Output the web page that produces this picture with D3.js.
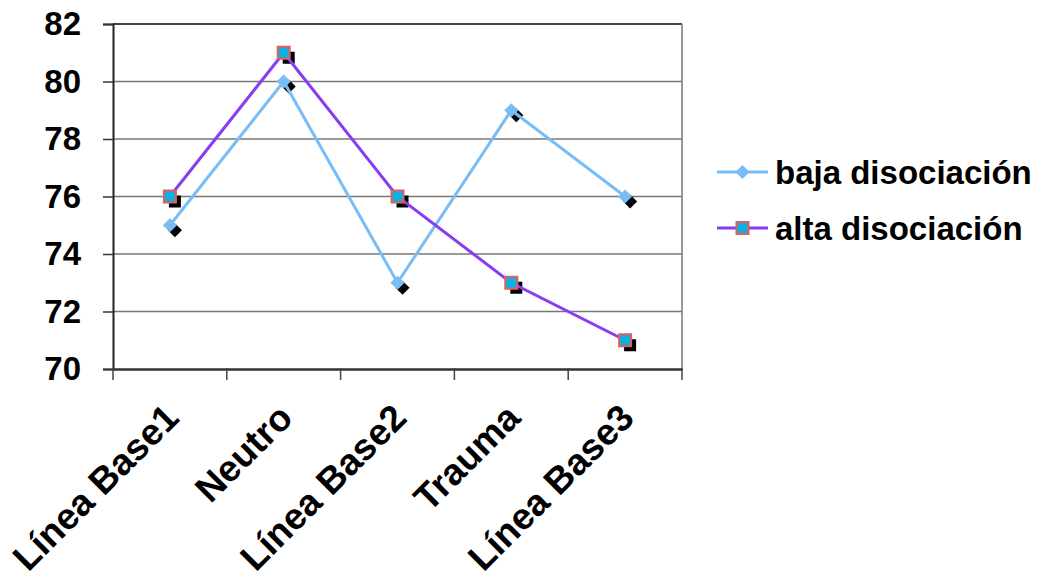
<!DOCTYPE html>
<html><head><meta charset="utf-8">
<script src="https://cdn.jsdelivr.net/npm/d3@7"></script>
<style>body{margin:0;background:#fff}svg{display:block}text{font-family:"Liberation Sans",Arial,sans-serif;font-weight:bold;fill:#000}</style>
</head><body><svg id="c" width="1045" height="579"></svg>
<script>
const categories = ["Línea Base1","Neutro","Línea Base2","Trauma","Línea Base3"];
const bajaValues = [75, 80, 73, 79, 76];
const altaValues = [76, 81, 76, 73, 71];
const seriesNames = ["baja disociación","alta disociación"];
const yTicks = [70,72,74,76,78,80,82];

const svg = d3.select("#c");
const L=113, R=682, T=24, B=369;
const x = d3.scaleBand().domain(categories).range([L,R]);
const y = d3.scaleLinear().domain([70,82]).range([B,T]);

// gridlines
svg.append("g").selectAll("line").data(yTicks.slice(1)).join("line")
  .attr("x1",L).attr("x2",R).attr("y1",d=>y(d)).attr("y2",d=>y(d))
  .attr("stroke",d=>d===82?"#444":"#777").attr("stroke-width",d=>d===82?2:1.5);
// right border
svg.append("line").attr("x1",R).attr("x2",R).attr("y1",T).attr("y2",B).attr("stroke","#777").attr("stroke-width",1.5);

// y axis
const ya = svg.append("g").attr("transform",`translate(${L},0)`)
  .call(d3.axisLeft(y).tickValues(yTicks).tickSize(10).tickPadding(22));
ya.select(".domain").attr("stroke","#222").attr("stroke-width",2);
ya.selectAll(".tick line").attr("stroke","#333").attr("stroke-width",1.5);
ya.selectAll("text").attr("font-size",33).attr("font-family","Liberation Sans, Arial, sans-serif").attr("font-weight","bold").attr("fill","#000");

// x axis
const xa = svg.append("g").attr("transform",`translate(0,${B})`)
  .call(d3.axisBottom(x).tickSize(0).tickFormat(""));
xa.select(".domain").attr("stroke","#333").attr("stroke-width",2.5);
const edges = categories.map(c=>x(c)).concat([R]);
svg.append("g").selectAll("line").data(edges).join("line")
  .attr("x1",d=>d).attr("x2",d=>d).attr("y1",B-1).attr("y2",B+11)
  .attr("stroke","#444").attr("stroke-width",1.5);
svg.append("g").selectAll("text").data(categories).join("text")
  .attr("transform",d=>`translate(${x(d)+x.bandwidth()/2+11},${B+51}) rotate(-45)`)
  .attr("text-anchor","end").attr("font-size",37).text(d=>d);

const cx = d=>x(d)+x.bandwidth()/2;
const line = d3.line().x((v,i)=>cx(categories[i])).y(v=>y(v));

// shadows
const sh=5;
svg.append("g").selectAll("rect").data(bajaValues).join("rect")
  .attr("x",(v,i)=>cx(categories[i])+sh-5).attr("y",v=>y(v)+sh-5).attr("width",10).attr("height",10)
  .attr("transform",(v,i)=>`rotate(45,${cx(categories[i])+sh},${y(v)+sh})`).attr("fill","#000");
svg.append("g").selectAll("rect").data(altaValues).join("rect")
  .attr("x",(v,i)=>cx(categories[i])+sh-6).attr("y",v=>y(v)+sh-6).attr("width",12).attr("height",12).attr("fill","#000");

svg.append("path").datum(bajaValues).attr("d",line).attr("fill","none").attr("stroke","#78bdf6").attr("stroke-width",3);
svg.append("path").datum(altaValues).attr("d",line).attr("fill","none").attr("stroke","#8a3cf2").attr("stroke-width",3);

svg.append("g").selectAll("rect").data(bajaValues).join("rect")
  .attr("x",(v,i)=>cx(categories[i])-5).attr("y",v=>y(v)-5).attr("width",10).attr("height",10)
  .attr("transform",(v,i)=>`rotate(45,${cx(categories[i])},${y(v)})`).attr("fill","#78bdf6");
svg.append("g").selectAll("rect").data(altaValues).join("rect")
  .attr("x",(v,i)=>cx(categories[i])-6).attr("y",v=>y(v)-6).attr("width",12).attr("height",12)
  .attr("fill","#12aee0").attr("stroke","#e0605a").attr("stroke-width",2);

// legend
const lg = svg.append("g");
const ly=[172,228];
lg.append("line").attr("x1",717).attr("x2",768).attr("y1",ly[0]).attr("y2",ly[0]).attr("stroke","#78bdf6").attr("stroke-width",3);
lg.append("rect").attr("x",742.5-5).attr("y",ly[0]-5).attr("width",10).attr("height",10).attr("fill","#78bdf6")
  .attr("transform",`rotate(45,742.5,${ly[0]})`);
lg.append("line").attr("x1",717).attr("x2",768).attr("y1",ly[1]).attr("y2",ly[1]).attr("stroke","#8a3cf2").attr("stroke-width",3);
lg.append("rect").attr("x",742.5-6).attr("y",ly[1]-6).attr("width",12).attr("height",12)
  .attr("fill","#12aee0").attr("stroke","#e0605a").attr("stroke-width",2);
lg.selectAll("text").data(seriesNames).join("text").attr("x",775).attr("y",(d,i)=>ly[i]).attr("dy","0.36em")
  .attr("font-size",33).text(d=>d);
</script></body></html>
